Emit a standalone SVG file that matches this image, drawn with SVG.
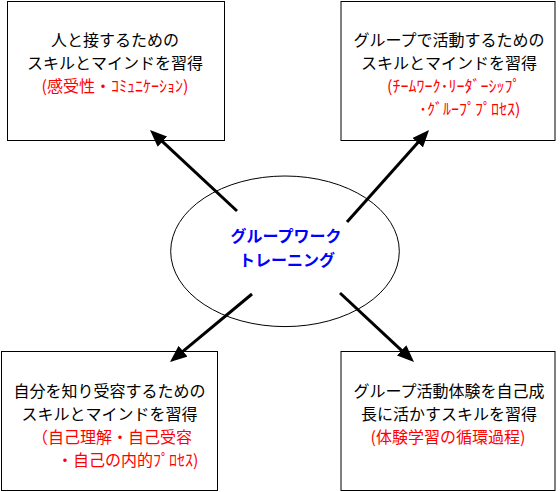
<svg xmlns="http://www.w3.org/2000/svg" width="560" height="492" viewBox="0 0 560 492">
<style>
.box{fill:#fff;stroke:#000;stroke-width:1}
.t{font-family:"Noto Sans CJK JP","Liberation Sans",sans-serif;font-size:16px;fill:#000}
.r{fill:#ff0000}
.c{text-anchor:middle}
.ctr{font-family:"Noto Sans CJK JP","Liberation Sans",sans-serif;font-size:16px;font-weight:bold;fill:#0000ff;text-anchor:middle}
.conn{stroke:#000;stroke-width:3;fill:none;marker-end:url(#ah)}
</style>
<defs>
<marker id="ah" viewBox="0 0 17 14" refX="1" refY="7" markerWidth="17" markerHeight="14" markerUnits="userSpaceOnUse" orient="auto">
<path d="M0,0 L17,7 L0,14 z" fill="#000"/>
</marker>
</defs>
<rect width="560" height="492" fill="#fff"/>
<g id="node-tl">
<rect class="box" x="7.5" y="1.5" width="217" height="139"/>
<text class="t c" x="115" y="46">人と接するための</text>
<text class="t c" x="115" y="69">スキルとマインドを習得</text>
<text class="t c r" x="115" y="92">(感受性・ｺﾐｭﾆｹｰｼｮﾝ)</text>
</g>
<g id="node-tr">
<rect class="box" x="341" y="1.5" width="214" height="139"/>
<text class="t c" x="449" y="46">グループで活動するための</text>
<text class="t c" x="449" y="69">スキルとマインドを習得</text>
<text class="t r" x="387" y="92">(ﾁｰﾑﾜｰｸ･ﾘｰﾀﾞｰｼｯﾌﾟ</text>
<text class="t r" x="419" y="115">･ｸﾞﾙｰﾌﾟﾌﾟﾛｾｽ)</text>
</g>
<g id="node-bl">
<rect class="box" x="1.5" y="351.5" width="216" height="139"/>
<text class="t c" x="109.5" y="397">自分を知り受容するための</text>
<text class="t c" x="109.5" y="420">スキルとマインドを習得</text>
<text class="t r" x="32" y="443">（自己理解・自己受容</text>
<text class="t r" x="57" y="466">・自己の内的ﾌﾟﾛｾｽ)</text>
</g>
<g id="node-br">
<rect class="box" x="341" y="351.5" width="214" height="139"/>
<text class="t c" x="449" y="397">グループ活動体験を自己成</text>
<text class="t c" x="449" y="420">長に活かすスキルを習得</text>
<text class="t c r" x="448" y="443">(体験学習の循環過程)</text>
</g>
<g id="node-center">
<ellipse cx="285" cy="251.3" rx="114.3" ry="75.3" fill="#fff" stroke="#000" stroke-width="1"/>
<text class="ctr" x="286" y="242">グループワーク</text>
<text class="ctr" x="287" y="266">トレーニング</text>
</g>
<g id="connectors">
<line class="conn" x1="237" y1="211" x2="161.7" y2="140.9"/>
<line class="conn" x1="347" y1="222" x2="418.4" y2="142"/>
<line class="conn" x1="252" y1="294" x2="182.3" y2="351.8"/>
<line class="conn" x1="340" y1="293" x2="402.3" y2="351.1"/>
</g>
</svg>
